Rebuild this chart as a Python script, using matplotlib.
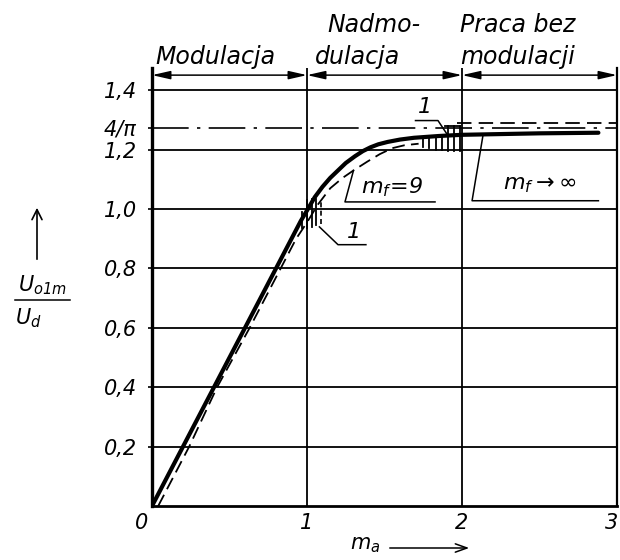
import matplotlib
matplotlib.use("Agg")
import matplotlib.pyplot as plt
from matplotlib.patches import FancyArrowPatch
from matplotlib.lines import Line2D
import numpy as np

plt.rcParams['font.family'] = ['DejaVu Sans']
plt.rcParams['mathtext.fontset'] = 'custom'
plt.rcParams['mathtext.rm'] = 'DejaVu Sans:italic'
plt.rcParams['mathtext.it'] = 'DejaVu Sans:italic'
plt.rcParams['mathtext.sf'] = 'DejaVu Sans:italic'

# ---- data ----
ma_inf = [0, 0.2, 0.4, 0.6, 0.8, 0.9, 0.96, 1.0, 1.05, 1.1, 1.15, 1.2, 1.25, 1.31, 1.36, 1.41,
          1.46, 1.52, 1.6, 1.69, 1.85, 2.0, 2.2, 2.5, 2.88]
u_inf = [0, 0.2, 0.4, 0.6, 0.8, 0.9, 0.96, 0.995, 1.04, 1.075, 1.105, 1.13, 1.155, 1.178, 1.195, 1.208,
         1.218, 1.226, 1.234, 1.24, 1.246, 1.25, 1.252, 1.255, 1.257]

ma_9 = [0.04, 0.24, 0.42, 0.63, 0.83, 0.93, 1.0, 1.07, 1.15, 1.23, 1.3, 1.39, 1.47, 1.55, 1.63, 1.72]
u_9 = [0, 0.2, 0.4, 0.6, 0.8, 0.9, 0.955, 1.015, 1.07, 1.105, 1.13, 1.16, 1.185, 1.205, 1.215, 1.22]

ma_9_lim = [1.97, 3.0]
u_9_lim = [1.29, 1.29]

square_wave = 4 / np.pi

hatch1_ma = [0.97, 1.0, 1.03, 1.06]
hatch1_lo = [0.935, 0.935, 0.94, 0.945]
hatch1_hi = [0.99, 1.03, 1.035, 1.035]
hatch1_dash_ma = 1.09
hatch1_dash = [0.95, 1.03]

hatch2_ma = [1.75, 1.79, 1.83, 1.87, 1.91, 1.95, 1.99]
hatch2_lo = [1.21, 1.205, 1.2, 1.2, 1.195, 1.195, 1.195]
hatch2_hi = [1.24, 1.242, 1.244, 1.246, 1.28, 1.28, 1.28]

ytick_vals = [0.2, 0.4, 0.6, 0.8, 1.0, 1.2, 1.4]
ytick_labels = ["0,2", "0,4", "0,6", "0,8", "1,0", "1,2", "1,4"]
xtick_vals = [1, 2, 3]
xtick_labels = ["1", "2", "3"]

region_bounds = [0, 1, 2, 3]

# ---- figure ----
W, H = 620, 560
fig = plt.figure(figsize=(W / 100, H / 100), dpi=100)
ax = fig.add_axes([152 / W, 1 - 506 / H, (617 - 152) / W, (506 - 68) / H])
ax.set_xlim(0, 3)
ax.set_ylim(0, 1.475)

# grid
for y in ytick_vals:
    ax.plot([0, 3], [y, y], color='k', lw=1.3, zorder=1)
for x in xtick_vals[:-1]:
    ax.axvline(x, color='k', lw=1.3, zorder=1)

ax.spines['top'].set_visible(False)
ax.spines['left'].set_linewidth(2.4)
ax.spines['bottom'].set_linewidth(2.0)
ax.spines['right'].set_linewidth(1.6)

# 4/pi dash-dot
ax.plot([0, 3], [square_wave, square_wave], color='k', lw=1.2,
        dashes=(22, 5, 2, 5), zorder=2)

# curves
ax.plot(ma_inf, u_inf, color='k', lw=3.0, solid_capstyle='round',
        solid_joinstyle='round', zorder=4)
ax.plot(ma_9, u_9, color='k', lw=1.3, dashes=(7, 3.5), zorder=3)
ax.plot(ma_9_lim, u_9_lim, color='k', lw=1.3, dashes=(8, 4), zorder=3)

# hatched regions "1"
for x, lo, hi in zip(hatch1_ma, hatch1_lo, hatch1_hi):
    ax.plot([x, x], [lo, hi], color='k', lw=1.3, zorder=3)
ax.plot([hatch1_dash_ma] * 2, hatch1_dash, color='k', lw=1.2, dashes=(3, 2), zorder=3)
for x, lo, hi in zip(hatch2_ma, hatch2_lo, hatch2_hi):
    ax.plot([x, x], [lo, hi], color='k', lw=1.3, zorder=3)
ax.plot([hatch2_ma[4] - 0.02, hatch2_ma[-1]], [1.28, 1.28], color='k', lw=1.3, zorder=3)

# ticks
ax.set_yticks(ytick_vals + [square_wave])
ax.set_yticklabels(ytick_labels + ["4/π"], fontsize=15, fontstyle='italic')
ax.tick_params(axis='y', length=3, width=1.2, pad=8)
ax.set_xticks([])
for xv, xl in zip(xtick_vals, xtick_labels):
    if xv == 3:
        ax.text(xv + 0.005, -0.025, xl, fontsize=15, fontstyle='italic',
                ha='right', va='top', clip_on=False)
    else:
        ax.text(xv, -0.025, xl, fontsize=15, fontstyle='italic',
                ha='center', va='top', clip_on=False)
ax.text(-0.07, -0.025, "0", fontsize=15, fontstyle='italic', ha='center', va='top')

# region arrows at the top
ya = 1.451
for a, b in zip(region_bounds[:-1], region_bounds[1:]):
    arr = FancyArrowPatch((a, ya), (b, ya),
                          arrowstyle='<|-|>,head_length=1.1,head_width=0.25',
                          mutation_scale=10, lw=1.1, color='k',
                          shrinkA=0, shrinkB=0, clip_on=False, zorder=5)
    ax.add_patch(arr)

tkw = dict(fontsize=17, fontstyle='italic', va='baseline', clip_on=False)
ax.text(0.02, 1.49, "Modulacja", ha='left', **tkw)
ax.text(1.13, 1.596, "Nadmo-", ha='left', **tkw)
ax.text(1.05, 1.49, "dulacja", ha='left', **tkw)
ax.text(1.99, 1.596, "Praca bez", ha='left', **tkw)
ax.text(1.99, 1.49, "modulacji", ha='left', **tkw)

# annotation: m_f = 9
ax.plot([1.3, 1.245, 1.826], [1.13, 1.024, 1.024], color='k', lw=1.1, zorder=3)
ax.text(1.55, 1.075, r"$m_f\!=\!9$", fontsize=16, ha='center', va='center')

# annotation: m_f -> inf
ax.plot([2.135, 2.065, 2.88], [1.247, 1.028, 1.028], color='k', lw=1.1, zorder=3)
ax.text(2.5, 1.08, r"$m_f \rightarrow \infty$", fontsize=16, ha='center', va='center')

# annotation: 1 (lower)
ax.plot([1.08, 1.2, 1.38], [0.94, 0.88, 0.88], color='k', lw=1.1, zorder=3)
ax.text(1.3, 0.89, "1", fontsize=16, fontstyle='italic', ha='center', va='bottom')

# annotation: 1 (upper)
ax.plot([1.70, 1.845, 1.91], [1.298, 1.298, 1.247], color='k', lw=1.1, zorder=3)
ax.text(1.76, 1.31, "1", fontsize=16, fontstyle='italic', ha='center', va='bottom')

# y label (arrow + fraction)
fig.patches.append(FancyArrowPatch((37 / W, 1 - 262 / H), (37 / W, 1 - 205 / H),
                                   transform=fig.transFigure, arrowstyle='->,head_length=0.6,head_width=0.3',
                                   mutation_scale=12, lw=1.2, color='k'))
fig.text(42 / W, 1 - 285 / H, r"$U_{o1m}$", fontsize=15, ha='center', va='center')
fig.lines.append(Line2D([15 / W, 70 / W], [1 - 300 / H, 1 - 300 / H],
                        transform=fig.transFigure, color='k', lw=1.1))
fig.text(15 / W, 1 - 318 / H, r"$U_d$", fontsize=15, ha='left', va='center')

# x label
fig.text(365 / W, 1 - 545 / H, r"$m_a$", fontsize=15, ha='center', va='center')
fig.patches.append(FancyArrowPatch((387 / W, 1 - 548 / H), (472 / W, 1 - 548 / H),
                                   transform=fig.transFigure, arrowstyle='->,head_length=0.7,head_width=0.25',
                                   mutation_scale=12, lw=1.1, color='k'))

fig.savefig("out.png", dpi=100, facecolor='white')
